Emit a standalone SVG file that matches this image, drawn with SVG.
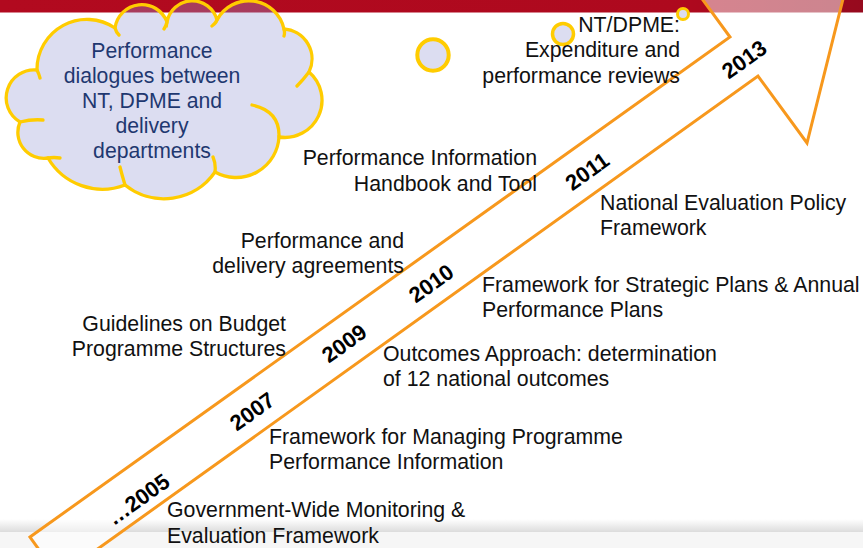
<svg xmlns="http://www.w3.org/2000/svg" width="863" height="548" viewBox="0 0 863 548">
  <defs>
    <linearGradient id="bandGrad" x1="0" y1="0" x2="1" y2="0">
      <stop offset="0" stop-color="#B20A1F"/>
      <stop offset="0.8" stop-color="#AE091E"/>
      <stop offset="1" stop-color="#960A1E"/>
    </linearGradient>
    <linearGradient id="floorGrad" x1="0" y1="0" x2="0" y2="1">
      <stop offset="0" stop-color="#FFFFFF"/>
      <stop offset="1" stop-color="#DCDCDC"/>
    </linearGradient>
    <style>
      .label { font-family: "Liberation Sans", Arial, sans-serif; font-size: 21.3px; fill: #111111; }
      .end { text-anchor: end; }
      .year { font-family: "Liberation Sans", Arial, sans-serif; font-size: 22px; font-weight: bold; fill: #000000; text-anchor: middle; }
      .cloud-text { font-family: "Liberation Sans", Arial, sans-serif; font-size: 21.2px; fill: #1F3870; text-anchor: middle; }
      .bubble { fill: #DCDDF1; stroke: #FFCC00; }
      .cloud-line { fill: none; stroke: #FFCC00; stroke-width: 3.3; stroke-linecap: round; }
    </style>
  </defs>

  <!-- page furniture: top band and floor shadow -->
  <rect x="0" y="0" width="863" height="12.5" fill="url(#bandGrad)"/>
  <rect x="0" y="519" width="863" height="13" fill="url(#floorGrad)"/>
  <rect x="0" y="532" width="863" height="16" fill="#F6F6F6"/>

  <!-- timeline arrow -->
  <g id="connectors">
    <path id="timeline-arrow" d="M30,537 L730,37 L681,-30 L847,-17 L807,143 L758,76 L58.5,577 Z"
          fill="#FFFFFF" fill-opacity="0.5" stroke="#F7981D" stroke-width="3" stroke-linejoin="miter"/>
  </g>

  <!-- cloud callout -->
  <g id="cloud-dialogues">
    <path d="M37,70 A50,50 0 0 1 115,28 A27,27 0 0 1 167,22 A25.6,25.6 0 0 1 217,20 A36,36 0 0 1 284,29 A30,30 0 0 1 309,72 A37.2,37.2 0 0 1 279,137 A43,43 0 0 1 215,172 A62,62 0 0 1 125,185 A63,63 0 0 1 48,158 A26,26 0 0 1 20,122 A28,28 0 0 1 37,70 Z"
          fill="rgb(152,155,214)" fill-opacity="0.34" stroke="#FFCC00" stroke-width="3.3"/>
    <path class="cloud-line" d="M37,70 Q39,74 40,78 M115,28 Q116,32 119,35 M167,22 Q166,26 164,29 M217,20 Q215,24 212,26 M284,29 Q285,33 284,36 M309,72 Q303,80 297,86 M252,105 Q280,111 279,137 M215,172 Q216,164 213,157 M125,185 Q122,175 120,167 M48,158 Q54,157 60,158 M20,122 Q32,119 43,120"/>
    <text class="cloud-text" x="152" y="58">Performance</text>
    <text class="cloud-text" x="152" y="83">dialogues between</text>
    <text class="cloud-text" x="152" y="108">NT, DPME and</text>
    <text class="cloud-text" x="152" y="133">delivery</text>
    <text class="cloud-text" x="152" y="158">departments</text>
  </g>

  <!-- decorative bubbles -->
  <g id="bubbles">
    <circle class="bubble" cx="433" cy="55" r="15.7" stroke-width="4"/>
    <circle class="bubble" cx="563" cy="34" r="10.5" stroke-width="3.5"/>
    <circle class="bubble" cx="683" cy="14" r="5.5" stroke-width="3"/>
  </g>

  <!-- year markers along the arrow -->
  <g id="year-2005" transform="translate(138,499) rotate(-35.6)"><text class="year" x="0" y="8">…2005</text></g>
  <g id="year-2007" transform="translate(252,411) rotate(-35.6)"><text class="year" x="0" y="8">2007</text></g>
  <g id="year-2009" transform="translate(344,343) rotate(-35.6)"><text class="year" x="0" y="8">2009</text></g>
  <g id="year-2010" transform="translate(431,283) rotate(-35.6)"><text class="year" x="0" y="8">2010</text></g>
  <g id="year-2011" transform="translate(587,171) rotate(-35.6)"><text class="year" x="0" y="8">2011</text></g>
  <g id="year-2013" transform="translate(744,59) rotate(-35.6)"><text class="year" x="0" y="8">2013</text></g>

  <!-- milestones above the arrow -->
  <g id="expenditure-reviews">
    <text class="label end" x="680" y="32">NT/DPME:</text>
    <text class="label end" x="680" y="57">Expenditure and</text>
    <text class="label end" x="680" y="83">performance reviews</text>
  </g>
  <g id="handbook-tool">
    <text class="label end" x="537" y="165">Performance Information</text>
    <text class="label end" x="537" y="191">Handbook and Tool</text>
  </g>
  <g id="delivery-agreements">
    <text class="label end" x="404" y="248">Performance and</text>
    <text class="label end" x="404" y="273">delivery agreements</text>
  </g>
  <g id="budget-guidelines">
    <text class="label end" x="286" y="331">Guidelines on Budget</text>
    <text class="label end" x="286" y="356">Programme Structures</text>
  </g>

  <!-- milestones below the arrow -->
  <g id="evaluation-policy">
    <text class="label" x="600" y="210">National Evaluation Policy</text>
    <text class="label" x="600" y="235">Framework</text>
  </g>
  <g id="strategic-plans">
    <text class="label" x="482" y="292">Framework for Strategic Plans &amp; Annual</text>
    <text class="label" x="482" y="317">Performance Plans</text>
  </g>
  <g id="outcomes-approach">
    <text class="label" x="383" y="361">Outcomes Approach: determination</text>
    <text class="label" x="383" y="386">of 12 national outcomes</text>
  </g>
  <g id="programme-performance">
    <text class="label" x="269" y="444">Framework for Managing Programme</text>
    <text class="label" x="269" y="469">Performance Information</text>
  </g>
  <g id="monitoring-evaluation">
    <text class="label" x="167" y="517">Government-Wide Monitoring &amp;</text>
    <text class="label" x="167" y="543">Evaluation Framework</text>
  </g>
</svg>
